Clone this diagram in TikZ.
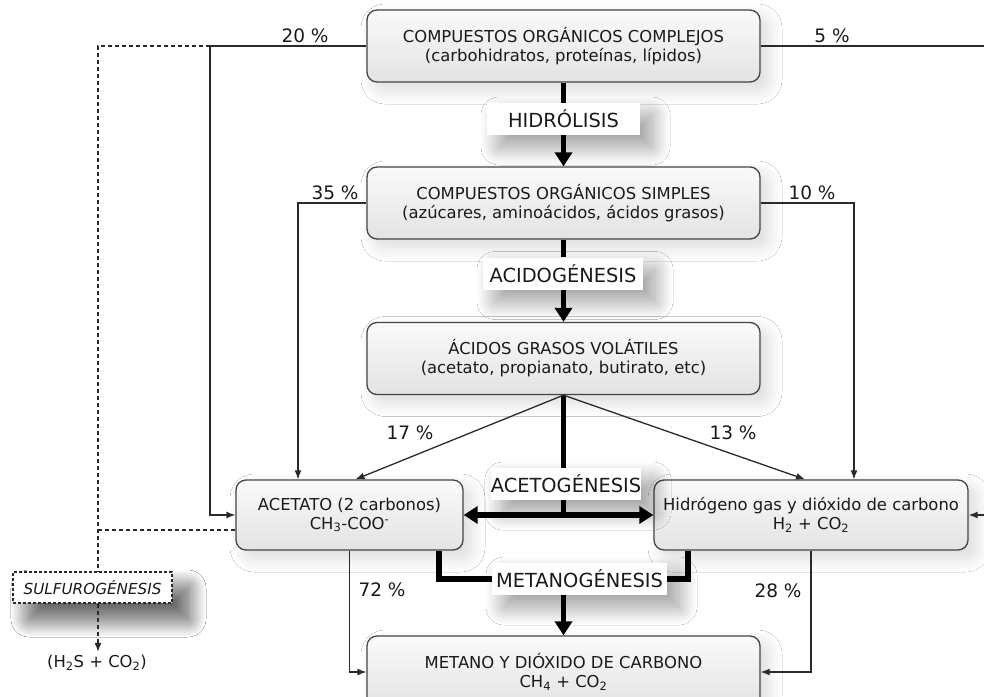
\documentclass[tikz,border=0pt]{standalone}
\usepackage{fontspec}
\setmainfont{DejaVu Sans}
\usetikzlibrary{arrows.meta, positioning, shadows.blur}
\definecolor{BoxLine}{HTML}{444444}
\definecolor{FlowLine}{HTML}{2A2A2A}
\definecolor{TextDark}{HTML}{1A1A1A}

\begin{document}
\begin{tikzpicture}[x=1pt, y=-1pt,
  box/.style={draw=BoxLine, line width=1.3pt, rounded corners=10pt, top color=black!2, bottom color=black!11, minimum width=393pt, minimum height=72pt, align=center, text=TextDark, font=\fontsize{16.4}{19}\selectfont, blur shadow={shadow xshift=8pt, shadow yshift=-8pt, shadow blur radius=14pt, shadow blur steps=25, shadow opacity=15}},
  stage/.style={fill=white, minimum height=32pt, inner sep=0pt, text=TextDark, font=\fontsize{19.4}{21}\selectfont, blur shadow={shadow xshift=12pt, shadow yshift=-12pt, shadow blur radius=18pt, shadow blur steps=25, shadow opacity=40}},
  pct/.style={text=TextDark, font=\fontsize{18.5}{20}\selectfont},
  flow/.style={draw=FlowLine, line width=1.3pt, -{Latex[length=9pt, width=7pt]}},
  bigflow/.style={draw=black, line width=5.5pt, -{Triangle[length=14pt, width=17pt]}},
  bigboth/.style={draw=black, line width=5.5pt, {Triangle[length=14pt, width=17pt]}-{Triangle[length=14pt, width=17pt]}},
  bigline/.style={draw=black, line width=5.5pt},
  sulfline/.style={draw=FlowLine, line width=1.4pt, dash pattern=on 4pt off 3pt}
]
  \useasboundingbox[fill=white] (0,0) rectangle (984,696);

  % main column
  \node[box] (complejos) at (563.5,46) {COMPUESTOS ORGÁNICOS COMPLEJOS\\(carbohidratos, proteínas, lípidos)};
  \node[box] (simples) at (563.5,203) {COMPUESTOS ORGÁNICOS SIMPLES\\(azúcares, aminoácidos, ácidos grasos)};
  \node[box] (volatiles) at (563.5,358.5) {ÁCIDOS GRASOS VOLÁTILES\\(acetato, propianato, butirato, etc)};
  \node[box, minimum width=227pt, minimum height=70pt] (acetato) at (349.5,515) {ACETATO (2 carbonos)\\CH\textsubscript{3}-COO\textsuperscript{-}};
  \node[box, minimum width=314pt, minimum height=70pt] (hidrogeno) at (811,515) {Hidrógeno gas y dióxido de carbono\\H\textsubscript{2} + CO\textsubscript{2}};
  \node[box] (metano) at (563.5,672) {METANO Y DIÓXIDO DE CARBONO\\CH\textsubscript{4} + CO\textsubscript{2}};

  % stages
  \node[stage, minimum width=153pt] (hidro) at (563.5,119) {HIDRÓLISIS};
  \node[stage, minimum width=160pt] (acido) at (563,273.5) {ACIDOGÉNESIS};
  \node[stage, minimum width=148pt] (aceto) at (566,484) {ACETOGÉNESIS};
  \node[stage, minimum width=175pt] (metanog) at (579.5,579) {METANOGÉNESIS};

  \node[stage, draw=FlowLine, line width=1.2pt, dash pattern=on 3pt off 2pt, minimum width=159pt, minimum height=31pt, font=\fontsize{15.2}{17}\selectfont\itshape, blur shadow={shadow xshift=16pt, shadow yshift=-16pt, shadow blur radius=18pt, shadow blur steps=25, shadow opacity=40}] (sulfuro) at (92.5,587.5) {SULFUROGÉNESIS};
  \node[pct, font=\fontsize{16.4}{19}\selectfont] (sulfprod) at (97,663) {(H\textsubscript{2}S + CO\textsubscript{2})};

  \coordinate (leftbus) at (210,0);
  \coordinate (rightbus) at (992,0);
  \coordinate (bus35) at (298,0);
  \coordinate (bus10) at (854,0);
  \coordinate (sulftop) at (98,46);
  \coordinate (acdash) at ([yshift=-15pt]acetato.west);

  % thick process arrows
  \draw[bigline] (complejos.south) -- (hidro.north);
  \draw[bigflow] (hidro.south) -- (simples.north);
  \draw[bigline] (simples.south) -- (acido.north -| simples.south);
  \draw[bigflow] (acido.south -| simples.south) -- (volatiles.north);
  \draw[bigline] (volatiles.south) -- (volatiles.south |- aceto.north);
  \draw[bigline] (volatiles.south |- aceto.south) -- (volatiles.south |- acetato.east);
  \draw[bigboth] (acetato.east) -- (hidrogeno.west);
  \draw[bigline] ([xshift=89.5pt]acetato.south) |- (metanog.west);
  \draw[bigline] ([xshift=-123pt]hidrogeno.south) |- (metanog.east);
  \draw[bigflow] (metanog.south -| metano.north) -- (metano.north);

  % side flows
  \draw[flow] (complejos.west) -| (leftbus |- acetato.west) -- (acetato.west);
  \draw[flow] (complejos.east) -| (rightbus |- hidrogeno.east) -- (hidrogeno.east);
  \draw[flow] (simples.west) -| (bus35 |- acetato.north);
  \draw[flow] (simples.east) -| (bus10 |- hidrogeno.north);
  \draw[flow] (volatiles.south) -- ([xshift=6pt]acetato.north);
  \draw[flow] (volatiles.south) -- ([xshift=-6pt]hidrogeno.north);
  \draw[flow] (acetato.south) |- (metano.west);
  \draw[flow] (hidrogeno.south) |- (metano.east);

  % sulfurogenesis
  \draw[sulfline] (complejos.west -| leftbus) -- (sulftop) -- (sulftop |- sulfuro.north);
  \draw[sulfline] (acdash) -- (acdash -| sulftop);
  \draw[sulfline, -{Latex[length=9pt, width=7pt]}] (sulftop |- sulfuro.south) -- (sulftop |- sulfprod.north);

  \node[pct] (p20) at (305,36) {20 \%};
  \node[pct] (p5) at (832,36) {5 \%};
  \node[pct] (p35) at (335,193) {35 \%};
  \node[pct] (p10) at (812,193) {10 \%};
  \node[pct] (p17) at (410,433) {17 \%};
  \node[pct] (p13) at (733,433) {13 \%};
  \node[pct] (p72) at (382,590) {72 \%};
  \node[pct] (p28) at (778,591) {28 \%};
\end{tikzpicture}
\end{document}
